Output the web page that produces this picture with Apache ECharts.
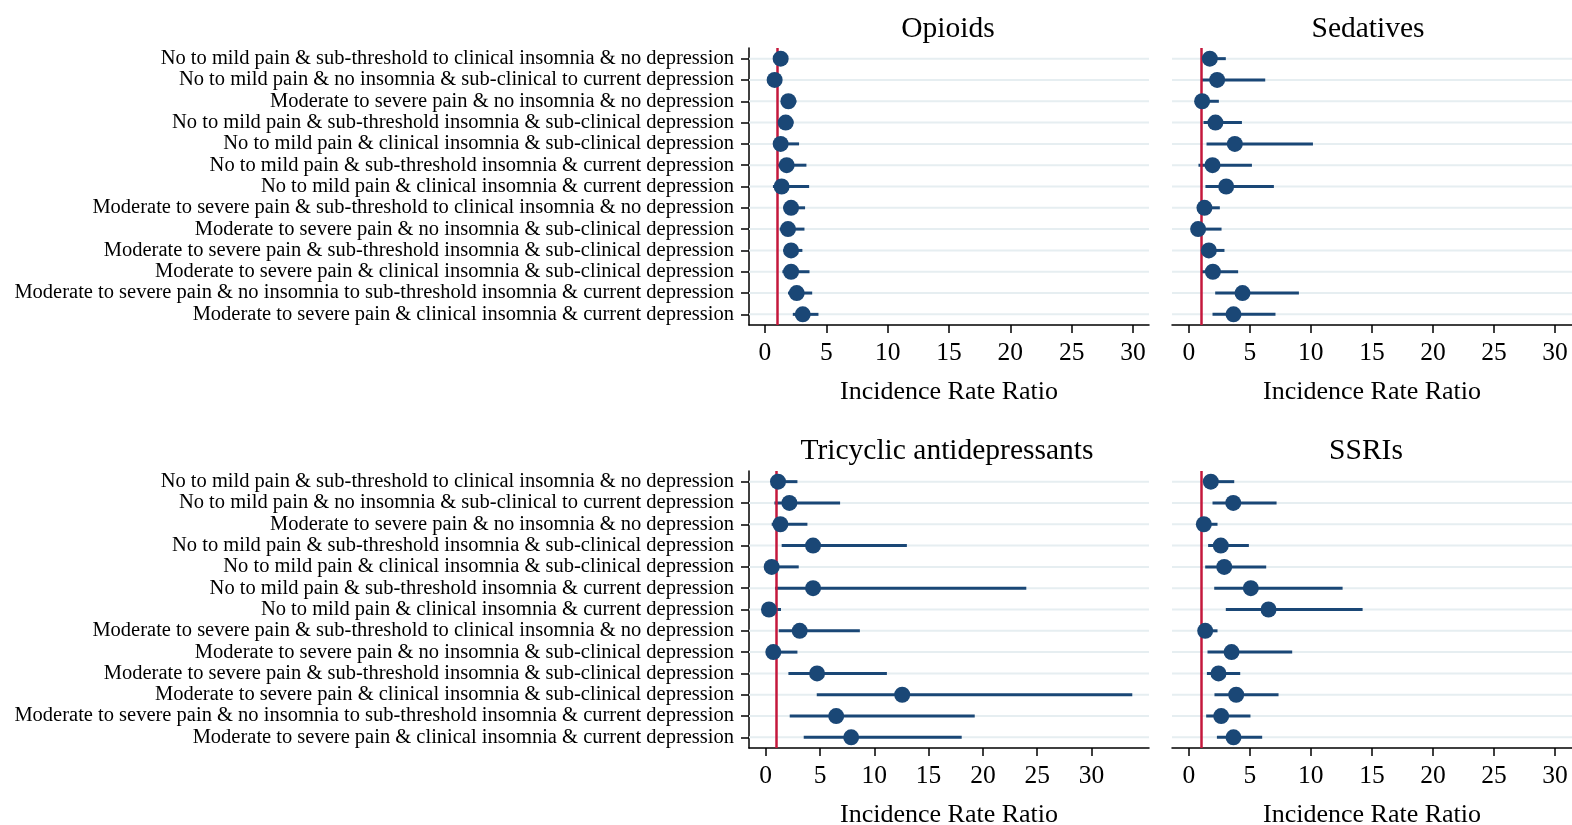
<!DOCTYPE html>
<html>
<head>
<meta charset="utf-8">
<script src="https://cdn.jsdelivr.net/npm/echarts@6/dist/echarts.min.js"></script>
<style>
html,body{margin:0;padding:0;background:#fff;}
#chart{width:1572px;height:825px;}
</style>
</head>
<body>
<div id="chart"></div>
<script>
const categories = [
  "No to mild pain & sub-threshold to clinical insomnia & no depression",
  "No to mild pain & no insomnia & sub-clinical to current depression",
  "Moderate to severe pain & no insomnia & no depression",
  "No to mild pain & sub-threshold insomnia & sub-clinical depression",
  "No to mild pain & clinical insomnia & sub-clinical depression",
  "No to mild pain & sub-threshold insomnia & current depression",
  "No to mild pain & clinical insomnia & current depression",
  "Moderate to severe pain & sub-threshold to clinical insomnia & no depression",
  "Moderate to severe pain & no insomnia & sub-clinical depression",
  "Moderate to severe pain & sub-threshold insomnia & sub-clinical depression",
  "Moderate to severe pain & clinical insomnia & sub-clinical depression",
  "Moderate to severe pain & no insomnia to sub-threshold insomnia & current depression",
  "Moderate to severe pain & clinical insomnia & current depression"
];

const opioidIRR = [1.28, 0.79, 1.91, 1.69, 1.28, 1.77, 1.36, 2.13, 1.88, 2.13, 2.13, 2.59, 3.08];
const opioidLo  = [0.95, 0.50, 1.40, 1.25, 0.80, 1.05, 0.65, 1.50, 1.20, 1.50, 1.42, 1.88, 2.27];
const opioidHi  = [1.70, 1.15, 2.56, 2.32, 2.78, 3.38, 3.60, 3.27, 3.22, 3.05, 3.63, 3.85, 4.36];

const sedativeIRR = [1.72, 2.32, 1.09, 2.18, 3.77, 1.94, 3.06, 1.28, 0.76, 1.64, 1.97, 4.40, 3.66];
const sedativeLo  = [1.20, 1.01, 0.60, 1.20, 1.45, 0.79, 1.36, 0.70, 0.30, 1.00, 1.01, 2.16, 1.94];
const sedativeHi  = [3.03, 6.26, 2.46, 4.35, 10.17, 5.17, 6.97, 2.54, 2.68, 2.92, 4.04, 9.02, 7.10];

const tcaIRR = [1.13, 2.18, 1.35, 4.36, 0.55, 4.36, 0.30, 3.13, 0.70, 4.73, 12.57, 6.49, 7.87];
const tcaLo  = [0.60, 0.80, 0.55, 1.47, 0.20, 0.86, 0.10, 1.20, 0.20, 2.09, 4.70, 2.21, 3.50];
const tcaHi  = [2.92, 6.85, 3.84, 13.00, 3.04, 24.00, 1.41, 8.67, 2.92, 11.16, 33.76, 19.25, 18.05];

const ssriIRR = [1.80, 3.64, 1.23, 2.62, 2.90, 5.08, 6.53, 1.34, 3.50, 2.43, 3.88, 2.65, 3.66];
const ssriLo  = [1.20, 1.94, 0.70, 1.58, 1.34, 2.08, 3.03, 0.80, 1.53, 1.48, 2.10, 1.42, 2.30];
const ssriHi  = [3.72, 7.19, 2.35, 4.92, 6.34, 12.60, 14.24, 2.35, 8.47, 4.21, 7.35, 5.05, 6.01];

const tickValues = [0, 5, 10, 15, 20, 25, 30];
const referenceValue = 1;
const axisTitle = "Incidence Rate Ratio";

const FONT = "'Liberation Serif', 'Times New Roman', serif";
const DOT = '#1a4776';
const GRIDLINE = '#e6eef1';
const RED = '#c4183c';

const panels = [
  {title: 'Opioids', irr: opioidIRR, lo: opioidLo, hi: opioidHi,
   grid: {left: 749, top: 48, width: 400, height: 277}, min: -1.3, max: 31.3, labels: true, titleX: 948, titleY: 14},
  {title: 'Sedatives', irr: sedativeIRR, lo: sedativeLo, hi: sedativeHi,
   grid: {left: 1172, top: 48, width: 400, height: 277}, min: -1.38, max: 31.4, labels: false, titleX: 1368, titleY: 14},
  {title: 'Tricyclic antidepressants', irr: tcaIRR, lo: tcaLo, hi: tcaHi,
   grid: {left: 749, top: 471, width: 400, height: 277}, min: -1.54, max: 35.3, labels: true, titleX: 947, titleY: 436},
  {title: 'SSRIs', irr: ssriIRR, lo: ssriLo, hi: ssriHi,
   grid: {left: 1172, top: 471, width: 400, height: 277}, min: -1.38, max: 31.4, labels: false, titleX: 1366, titleY: 436}
];

const option = {
  backgroundColor: '#ffffff',
  animation: false,
  title: panels.map(p => ({
    text: p.title, left: p.titleX, top: p.titleY, textAlign: 'center', padding: 0,
    textStyle: {fontFamily: FONT, fontSize: 29.5, fontWeight: 'normal', color: '#000'}
  })),
  grid: panels.map(p => Object.assign({containLabel: false, outerBoundsMode: 'none'}, p.grid)),
  xAxis: panels.map((p, i) => ({
    type: 'value', gridIndex: i, min: p.min, max: p.max,
    name: axisTitle, nameLocation: 'middle', nameGap: 54,
    nameTextStyle: {fontFamily: FONT, fontSize: 26, color: '#000'},
    axisLine: {show: true, onZero: false, lineStyle: {color: '#000', width: 1.5}},
    axisTick: {show: true, length: 8, inside: false, customValues: tickValues, lineStyle: {color: '#000', width: 1.5}},
    axisLabel: {show: true, customValues: tickValues, fontFamily: FONT, fontSize: 25.5, color: '#000', margin: 15},
    splitLine: {show: false}
  })),
  yAxis: panels.map((p, i) => ({
    type: 'category', gridIndex: i, data: categories, inverse: true,
    axisLine: {show: p.labels, onZero: false, lineStyle: {color: '#000', width: 1.5}},
    axisTick: {show: p.labels, alignWithLabel: true, interval: 0, length: 8, lineStyle: {color: '#000', width: 1.5}},
    axisLabel: {show: p.labels, interval: 0, fontFamily: FONT, fontSize: 20.5, color: '#000', margin: 15},
    splitLine: {show: false}
  })),
  series: []
};

panels.forEach((p, i) => {
  option.series.push({
    type: 'custom', xAxisIndex: i, yAxisIndex: i, z: 2,
    encode: {x: [1, 2], y: 0},
    data: categories.map((c, k) => [k, p.lo[k], p.hi[k]]),
    renderItem: function (params, api) {
      const idx = api.value(0);
      const a = api.coord([api.value(1), idx]);
      const b = api.coord([api.value(2), idx]);
      const cs = params.coordSys;
      return {
        type: 'group',
        children: [
          {type: 'line', shape: {x1: cs.x, y1: a[1], x2: cs.x + cs.width, y2: a[1]},
           style: {stroke: GRIDLINE, lineWidth: 2}},
          {type: 'line', shape: {x1: a[0], y1: a[1], x2: b[0], y2: b[1]},
           style: {stroke: DOT, lineWidth: 3}}
        ]
      };
    },
    markLine: {
      silent: true, symbol: 'none', z: 5,
      label: {show: false},
      lineStyle: {color: RED, width: 2.5, type: 'solid'},
      data: [{xAxis: referenceValue}]
    }
  });
  option.series.push({
    type: 'scatter', xAxisIndex: i, yAxisIndex: i, z: 10,
    symbol: 'circle', symbolSize: 16,
    itemStyle: {color: DOT, opacity: 1},
    data: categories.map((c, k) => [p.irr[k], k])
  });
});

const chart = echarts.init(document.getElementById('chart'), null, {renderer: 'canvas'});
chart.setOption(option);
</script>
</body>
</html>
